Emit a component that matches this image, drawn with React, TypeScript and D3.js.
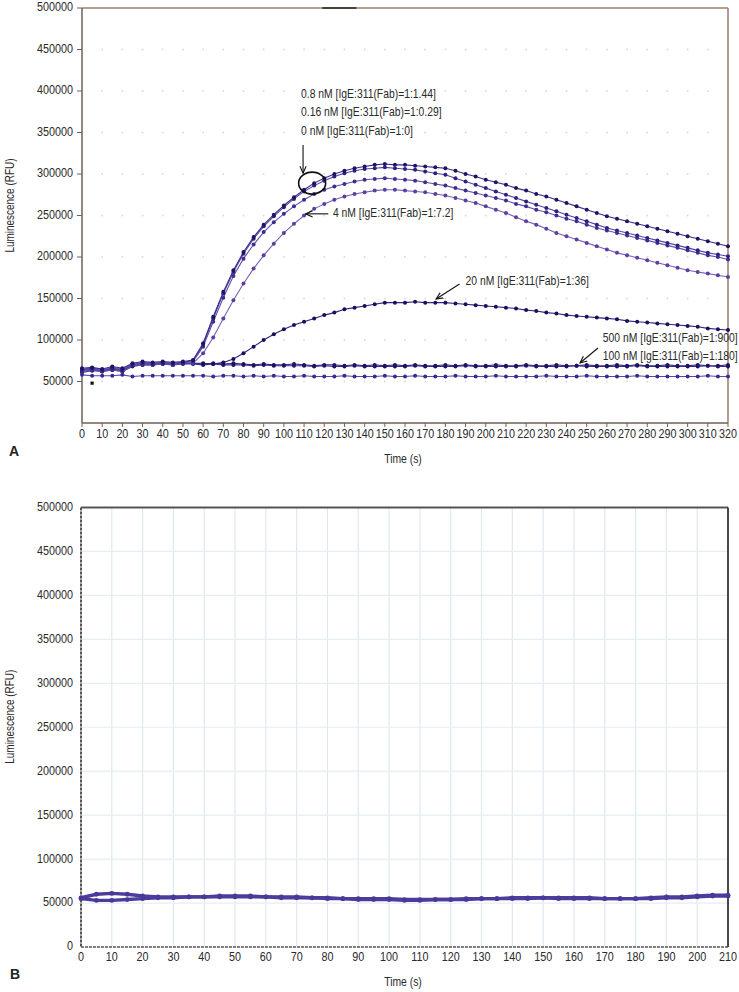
import React from 'react';
import * as d3 from 'd3';

// ---------- DATA (values in thousands of RFU) ----------
// Panel A: sampled every 5 s from 0 to 320 s
const timesA = d3.range(0, 325, 5);
const s08nM = [66,67,65,68,66, 72,74,73,74,73,74, 76,96,128,158,184,206,224,239,251,262,272,281,289,295,300,304,307,309,311,312, 311,311,310,309,308,307,304,300,297,293,290,287,283,280,276,273,269,265,261,257,253,249,246,243,240,237,234,231,228,225,222,219,216,213];
const s016nM = [64,66,63,66,64, 70,72,71,72,71,73, 75,94,126,156,182,204,222,237,249,260,270,279,286,292,297,301,304,306,307,308, 307,306,305,303,301,299,295,291,287,283,279,275,271,267,263,259,255,251,247,243,239,235,232,229,226,223,220,217,214,211,208,205,203,201];
const s0nM = [62,64,62,64,62, 69,70,70,71,70,72, 74,92,122,151,177,198,215,230,242,252,261,269,276,281,285,288,291,293,294,295, 294,293,292,290,288,286,283,280,277,274,271,268,264,261,257,254,250,246,243,239,235,232,229,226,223,220,217,214,211,208,205,202,200,197];
const s4nM = [65,66,64,67,65, 71,73,72,73,72,73, 72,84,103,126,148,168,186,202,216,229,240,250,258,264,269,273,276,278,280,281, 281,280,279,278,276,274,271,268,265,261,257,253,248,243,239,234,229,225,221,217,213,209,205,202,199,196,193,190,187,184,182,180,178,176];
const s20nM = [64,66,64,66,64, 70,72,71,72,71,72, 72,72,71,73,77,84,92,100,107,113,118,122,126,130,133,137,139,141,143,145, 145,145,146,145,145,145,144,143,142,141,140,139,138,136,135,133,132,130,129,128,127,126,125,123,122,121,120,119,118,117,116,114,113,112];
const s100nM = [63,65,63,65,63, 70,72,71,72,71,72, 72,71,72,71,72,71,70,71,70,70, 71,70,69,70,70,69,70,69,70,69, 70,69,70,69,69,70,69,70,69,69, 70,69,69,70,69,69,70,69,69,70, 69,69,70,69,70,69,69,70,69,69, 70,69,69,70];
const s500nM = [61,63,62,64,62, 68,70,70,71,70,71, 71,70,71,70,70,70,69,70,69,69, 69,69,68,69,68,68,69,68,68,68, 68,68,69,68,68,68,68,69,68,68, 68,68,68,69,68,68,68,68,69,68, 68,68,68,68,69,68,68,68,68,68, 68,69,68,68];
const sBlank = [58,57,57,57,58, 56,57,57,57,57,57, 57,57,56,57,57,56,57,56,57,56, 56,57,56,56,56,57,56,56,56,57, 56,56,57,56,56,56,57,56,56,56, 57,56,56,56,56,57,56,56,56,57, 56,56,56,56,57,56,56,56,56,56, 56,57,56,56];
const strayT = [5];
const strayV = [48];

// Panel B: sampled every 5 s from 0 to 210 s
const timesB = d3.range(0, 215, 5);
const b1 = [56,60,61,60,58, 57,57,57,57,58, 58,58,57,57,57, 56,56,55,55,55, 55,54,54,54,54, 55,55,55,56,56, 56,56,56,56,55, 55,55,56,57,57, 58,59,59];
const b2 = [55,53,53,54,55, 56,56,57,57,57, 57,57,57,56,56, 56,55,55,54,54, 54,53,53,54,54, 54,55,55,55,55, 56,55,55,55,55, 55,55,55,56,56, 57,58,58];

const yTicksA = [50000,100000,150000,200000,250000,300000,350000,400000,450000,500000];
const yTicksB = [0,50000,100000,150000,200000,250000,300000,350000,400000,450000,500000];
const xTicksA = d3.range(0, 330, 10);
const xTicksB = d3.range(0, 220, 10);

const annLinesTop = ['0.8 nM [IgE:311(Fab)=1:1.44]', '0.16 nM [IgE:311(Fab)=1:0.29]', '0 nM [IgE:311(Fab)=1:0]'];
const ann4 = '4 nM [IgE:311(Fab)=1:7.2]';
const ann20 = '20 nM [IgE:311(Fab)=1:36]';
const annHigh = ['500 nM [IgE:311(Fab)=1:900]', '100 nM [IgE:311(Fab)=1:180]'];

const FONT = "'Liberation Sans', Arial, sans-serif";
const SX = 0.83;

const seriesA = [
  { vals: s500nM, dot: '#1c1563', line: '#3a2c8c' },
  { vals: s100nM, dot: '#1a1360', line: '#35288a' },
  { vals: sBlank, dot: '#3a2a90', line: '#5a46a8' },
  { vals: s20nM, dot: '#17105a', line: '#30247f' },
  { vals: s4nM, dot: '#5b3e9f', line: '#7a5fb9' },
  { vals: s0nM, dot: '#3f2d8e', line: '#6650ad' },
  { vals: s016nM, dot: '#2d2080', line: '#5444a2' },
  { vals: s08nM, dot: '#1b1462', line: '#3a2c8a' },
];

function T({ x, y, anchor = 'start', size = 12, rotate = 0, children }: { x: number; y: number; anchor?: string; size?: number; rotate?: number; children: React.ReactNode }) {
  return (
    <text
      transform={`translate(${x},${y}) rotate(${rotate}) scale(${SX},1)`}
      textAnchor={anchor}
      dominantBaseline="middle"
      fontFamily={FONT}
      fontSize={size}
      fill="#2a2a2a"
    >
      {children}
    </text>
  );
}

export default function App() {
  const xA = d3.scaleLinear().domain([0, 320]).range([82, 728]);
  const yA = d3.scaleLinear().domain([0, 500000]).range([423, 8]);
  const xB = d3.scaleLinear().domain([0, 210]).range([81, 728]);
  const yB = d3.scaleLinear().domain([0, 500000]).range([947, 507.5]);

  const lineA = d3.line<number>().x((_, i) => xA(timesA[i])).y(d => yA(d * 1000));
  const lineB = d3.line<number>().x((_, i) => xB(timesB[i])).y(d => yB(d * 1000));

  const gridDots: React.ReactElement[] = [];
  yTicksA.slice(0, -1).forEach(v => {
    xTicksA.slice(1, -1).forEach(t => {
      gridDots.push(<circle key={`g${v}-${t}`} cx={xA(t)} cy={yA(v)} r={0.9} fill="#dadada" />);
    });
  });

  const ann = (t: number, v: number) => [xA(t), yA(v * 1000)];
  const [a1x1, a1y1] = ann(109.5, 335);
  const [a1x2, a1y2] = ann(109.5, 301);
  const [elx, ely] = ann(114, 289);
  const [a2x1, a2y1] = ann(122, 252);
  const [a2x2, a2y2] = ann(110.8, 252);
  const [a3x1, a3y1] = ann(187, 167.5);
  const [a3x2, a3y2] = ann(175.4, 149.4);
  const [a4x1, a4y1] = ann(255.6, 90.4);
  const [a4x2, a4y2] = ann(246.7, 72.3);
  const [t1x, t1y] = ann(108.5, 396);
  const [t2x, t2y] = ann(124.3, 252);
  const [t3x, t3y] = ann(190, 170);
  const [t4x, t4y] = ann(258, 102);

  return (
    <svg width={739} height={992} style={{ position: 'absolute', left: 0, top: 0, background: '#fff' }}>
      <defs>
        <marker id="arr" viewBox="0 0 10 10" refX={9} refY={5} markerWidth={7} markerHeight={7} orient="auto">
          <path d="M0,1 L9,5 L0,9" fill="none" stroke="#111" strokeWidth={1.4} />
        </marker>
      </defs>

      {/* ---------------- Panel A ---------------- */}
      {gridDots}
      <line x1={xA(0)} x2={xA(320)} y1={yA(500000)} y2={yA(500000)} stroke="#a0806c" strokeWidth={1.5} />
      <line x1={xA(119)} x2={xA(136)} y1={yA(500000)} y2={yA(500000)} stroke="#222" strokeWidth={1.6} />
      <line x1={xA(320)} x2={xA(320)} y1={yA(500000)} y2={yA(0)} stroke="#9c7e6c" strokeWidth={1.5} />
      <line x1={xA(0)} x2={xA(0)} y1={yA(500000)} y2={yA(0)} stroke="#6e6058" strokeWidth={1.5} />
      <line x1={xA(0)} x2={xA(320)} y1={yA(0)} y2={yA(0)} stroke="#6e6058" strokeWidth={1.5} />
      {yTicksA.map(v => (
        <g key={`ya${v}`}>
          <line x1={xA(0) - 5} x2={xA(0)} y1={yA(v)} y2={yA(v)} stroke="#6e6058" />
          <T x={73} y={yA(v)} anchor="end" size={13}>{v}</T>
        </g>
      ))}
      {xTicksA.map(t => (
        <g key={`xa${t}`}>
          <line x1={xA(t)} x2={xA(t)} y1={yA(0)} y2={yA(0) + 4} stroke="#6e6058" />
          <T x={xA(t)} y={yA(0) + 12} anchor="middle" size={13}>{t}</T>
        </g>
      ))}
      <T x={403} y={460} anchor="middle" size={12.5}>Time (s)</T>
      <T x={11} y={yA(262000)} anchor="middle" size={12} rotate={-90}>Luminescence (RFU)</T>
      <text x={14} y={452} textAnchor="middle" dominantBaseline="middle" fontFamily={FONT} fontWeight="bold" fontSize={14} fill="#222">A</text>

      {seriesA.map((s, si) => (
        <g key={`sa${si}`}>
          <path d={lineA(s.vals) || ''} fill="none" stroke={s.line} strokeWidth={1.1} />
          {s.vals.map((v, i) => (
            <circle key={i} cx={xA(timesA[i])} cy={yA(v * 1000)} r={2} fill={s.dot} />
          ))}
        </g>
      ))}
      {strayT.map((t, i) => (
        <rect key={`st${i}`} x={xA(t) - 1.6} y={yA(strayV[i] * 1000) - 1.6} width={3.2} height={3.2} fill="#111" />
      ))}

      {/* annotations */}
      {annLinesTop.map((s, i) => (
        <T key={`al${i}`} x={t1x} y={t1y + i * 18.5} size={12.5}>{s}</T>
      ))}
      <line x1={a1x1} y1={a1y1} x2={a1x2} y2={a1y2} stroke="#111" strokeWidth={1.1} markerEnd="url(#arr)" />
      <ellipse cx={elx} cy={ely} rx={13.5} ry={11} fill="none" stroke="#111" strokeWidth={1.6} />
      <line x1={a2x1} y1={a2y1} x2={a2x2} y2={a2y2} stroke="#111" strokeWidth={1.1} markerEnd="url(#arr)" />
      <T x={t2x} y={t2y} size={12.5}>{ann4}</T>
      <line x1={a3x1} y1={a3y1} x2={a3x2} y2={a3y2} stroke="#111" strokeWidth={1.1} markerEnd="url(#arr)" />
      <T x={t3x} y={t3y} size={12.5}>{ann20}</T>
      <line x1={a4x1} y1={a4y1} x2={a4x2} y2={a4y2} stroke="#111" strokeWidth={1.1} markerEnd="url(#arr)" />
      {annHigh.map((s, i) => (
        <T key={`ah${i}`} x={t4x} y={t4y + i * 18} size={12.5}>{s}</T>
      ))}

      {/* ---------------- Panel B ---------------- */}
      {xTicksB.slice(1, -1).map(t => (
        <line key={`gvb${t}`} x1={xB(t)} x2={xB(t)} y1={yB(500000)} y2={yB(0)} stroke="#dde9f1" strokeWidth={1.2} />
      ))}
      {yTicksB.slice(1, -1).map(v => (
        <line key={`ghb${v}`} x1={xB(0)} x2={xB(210)} y1={yB(v)} y2={yB(v)} stroke="#e4eef4" strokeWidth={1.2} />
      ))}
      <line x1={xB(0)} x2={xB(210)} y1={yB(500000)} y2={yB(500000)} stroke="#555" strokeWidth={1.8} />
      <line x1={xB(210)} x2={xB(210)} y1={yB(500000)} y2={yB(0)} stroke="#333" strokeWidth={1.8} />
      <line x1={xB(0)} x2={xB(0)} y1={yB(500000)} y2={yB(0)} stroke="#555" strokeWidth={2} strokeDasharray="3,1" />
      <line x1={xB(0)} x2={xB(210)} y1={yB(0)} y2={yB(0)} stroke="#555" strokeWidth={1.6} strokeDasharray="3,1" />
      {yTicksB.map(v => (
        <T key={`yb${v}`} x={73} y={yB(v)} anchor="end" size={13}>{v}</T>
      ))}
      {xTicksB.map(t => (
        <T key={`xb${t}`} x={xB(t)} y={yB(0) + 11} anchor="middle" size={13}>{t}</T>
      ))}
      <T x={403} y={983} anchor="middle" size={12.5}>Time (s)</T>
      <T x={11} y={yB(262000)} anchor="middle" size={12} rotate={-90}>Luminescence (RFU)</T>
      <text x={15} y={975} textAnchor="middle" dominantBaseline="middle" fontFamily={FONT} fontWeight="bold" fontSize={14} fill="#222">B</text>

      {[b2, b1].map((s, si) => (
        <g key={`sb${si}`}>
          <path d={lineB(s) || ''} fill="none" stroke="#4d3c9c" strokeWidth={3.4} />
          {s.map((v, i) => (
            <circle key={i} cx={xB(timesB[i])} cy={yB(v * 1000)} r={2.4} fill="#4a3898" />
          ))}
        </g>
      ))}
    </svg>
  );
}
